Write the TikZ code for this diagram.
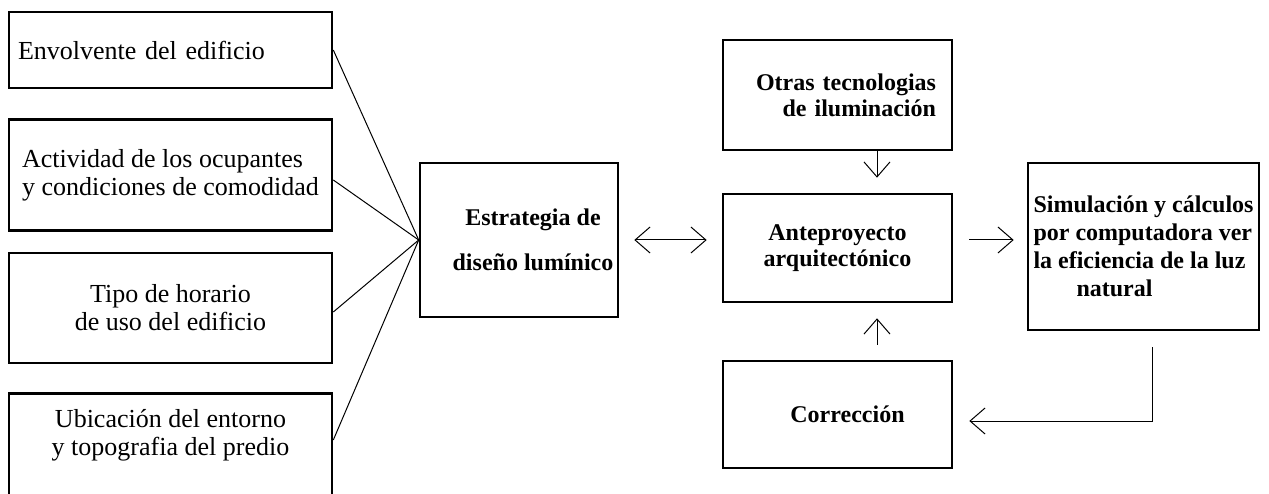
\documentclass[tikz,border=0pt]{standalone}
\usepackage{fontspec}
\setmainfont{Liberation Serif}
\usetikzlibrary{arrows.meta,calc}
\begin{document}
\begin{tikzpicture}[x=1pt,y=-1pt,
  box/.style={draw, line width=2.6pt, inner sep=0pt},
  lt/.style={font=\fontsize{26}{28}\selectfont},
  bt/.style={font=\bfseries\fontsize{24}{26}\selectfont},
  conn/.style={line width=1pt},
  arr/.style={line width=1pt, -{Straight Barb[length=15pt,width=26pt]}},
  darr/.style={line width=1pt, {Straight Barb[length=15pt,width=26pt]}-{Straight Barb[length=15pt,width=26pt]}},
]
\clip (0,0) rectangle (1269,494);
% left column
\node[box, lt, minimum width=323pt, minimum height=76pt, text width=305pt, align=left] (b1) at (170.5,50) {Envolvente del edificio};
\node[box, lt, minimum width=323pt, minimum height=111pt, align=left] (b2) at (170.5,175) {Actividad de los ocupantes\\y condiciones de comodidad};
\node[box, lt, minimum width=323pt, minimum height=110pt, align=center] (b3) at (170.5,308) {Tipo de horario\\de uso del edificio};
\node[box, minimum width=323pt, minimum height=140pt, anchor=north] (b4) at (170.5,392) {};
\node[lt, align=center, inner sep=0pt] (b4t) at (170.5,435) {Ubicación del entorno\\y topografia del predio};
% middle
\node[box, bt, minimum width=198pt, minimum height=154pt, align=center] (estr) at (519,240) {\hspace*{28pt}Estrategia de\\[19pt]\hspace*{28pt}diseño lumínico};
\node[box, bt, minimum width=229pt, minimum height=110pt, text width=197pt, align=right] (otras) at (837.5,95) {Otras tecnologias\\de iluminación};
\node[box, bt, minimum width=229pt, minimum height=108pt, align=center] (ante) at (837.5,248) {Anteproyecto\\arquitectónico};
\node[box, bt, minimum width=229pt, minimum height=107pt, align=center] (corr) at (837.5,414.5) {\hspace*{20pt}Corrección};
% right
\node[box, font=\bfseries\fontsize{24}{28}\selectfont, minimum width=231pt, minimum height=167pt, align=left] (sim) at (1143.5,246.5) {Simulación y cálculos\\por computadora ver\\la eficiencia de la luz\\\hspace*{43pt}natural};
% converging lines
\draw[conn] (b1.east) -- (estr.west);
\draw[conn] ([yshift=-5pt]b2.east) -- (estr.west);
\draw[conn] ([yshift=-4pt]b3.east) -- (estr.west);
\draw[conn] ($(b4.north east)+(0,48)$) -- (estr.west);
% arrows
\draw[darr, shorten <=15pt, shorten >=15pt] (estr.east) -- (estr.east -| ante.west);
\draw[arr, shorten <=16pt, shorten >=13pt] (estr.east -| ante.east) -- (estr.east -| sim.west);
\draw[arr, shorten >=15pt] ([xshift=39.5pt]otras.south) -- ([xshift=39.5pt]ante.north);
\draw[arr, shorten <=15pt, shorten >=15pt] ([xshift=39.5pt]corr.north) -- ([xshift=39.5pt]ante.south);
\coordinate (fb) at (1152,421);
\draw[arr, shorten <=16pt, shorten >=16pt] (sim.south -| fb) -- (fb) -- (corr.east |- fb);
\end{tikzpicture}
\end{document}
